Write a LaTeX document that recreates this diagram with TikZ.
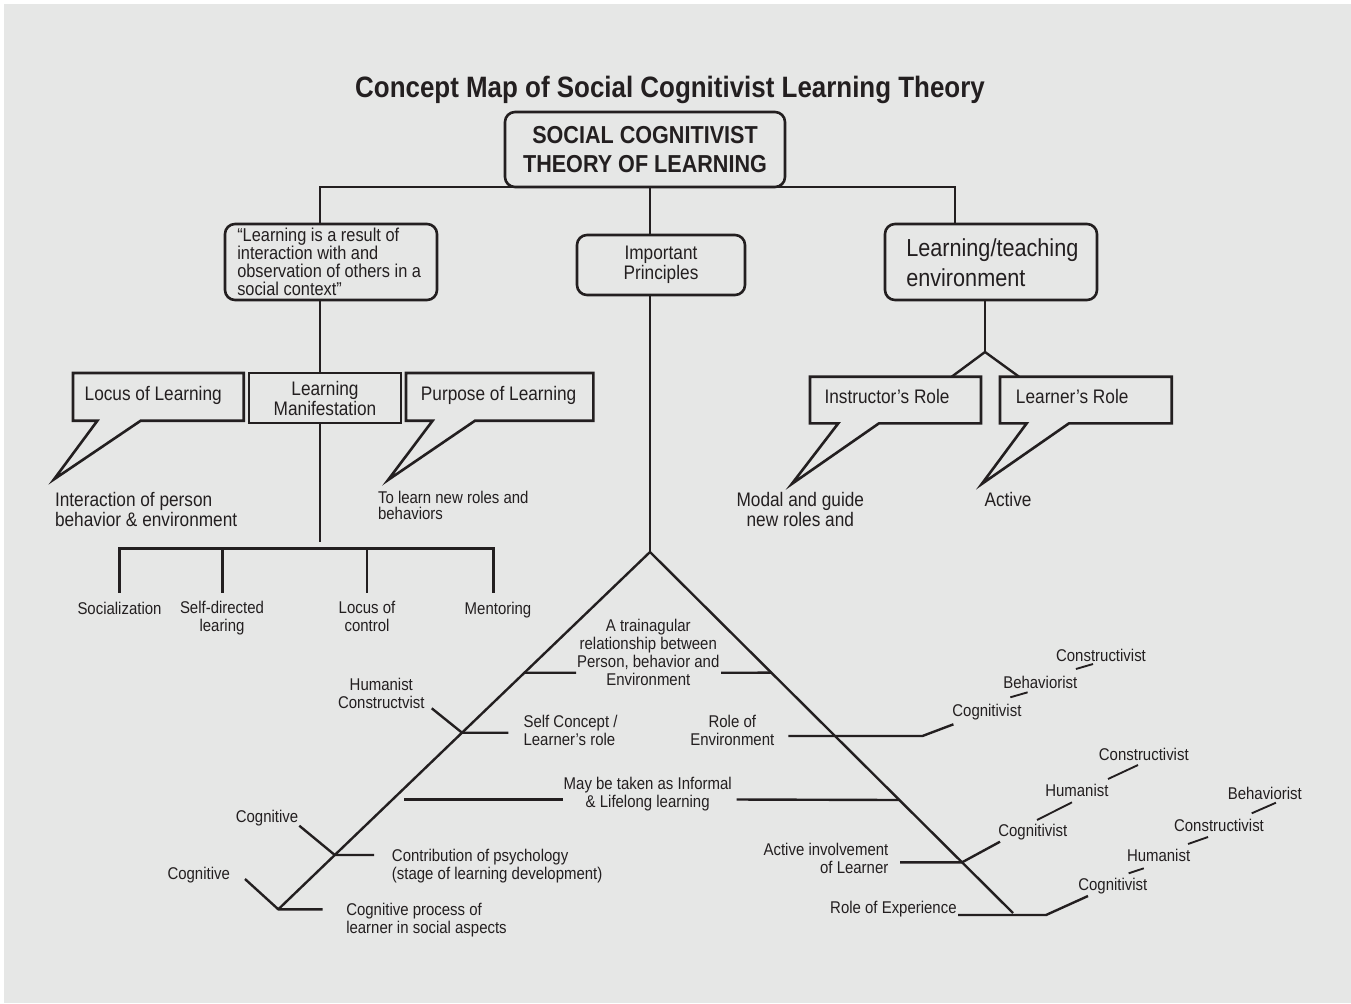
\documentclass[tikz,border=0pt]{standalone}
\usepackage{fontspec}
\setmainfont{Liberation Sans}[FakeStretch=0.88]
\usetikzlibrary{calc}
\definecolor{ink}{HTML}{231F20}
\definecolor{bg}{HTML}{E6E7E6}
\begin{document}
\begin{tikzpicture}[x=0.75pt,y=-0.75pt,
  line/.style={draw=ink,line width=1.8pt},
  thinline/.style={draw=ink,line width=1.4pt},
  rbox/.style={draw=ink,line width=1.95pt,rounded corners=7.5pt,inner sep=0pt,align=center,text=ink},
  sbox/.style={draw=ink,line width=1.95pt,inner sep=0pt,align=center,text=ink},
  callout/.style={draw=ink,line width=1.95pt,line join=miter},
  txt/.style={inner sep=0pt,text=ink,font=\fontsize{12.75}{13.5}\selectfont},
  med/.style={inner sep=0pt,text=ink,font=\fontsize{14.7}{15}\selectfont},
]
\useasboundingbox (0,0) rectangle (1351,1003);
\fill[white] (0,0) rectangle (1351,1003);
\fill[bg] (4,4) rectangle (1351,1003);

% title
\node[inner sep=0pt,text=ink,font=\bfseries\fontsize{22.1}{26}\selectfont,anchor=base] (title) at (670,97) {Concept Map of Social Cognitivist Learning Theory};

% top boxes
\node[rbox,minimum width=210pt,minimum height=56.25pt,font=\bfseries\fontsize{18.4}{21.3}\selectfont] (main) at (645,149.5) {SOCIAL COGNITIVIST\\THEORY OF LEARNING};
\node[rbox,minimum width=159pt,minimum height=57pt] (lbox) at (331,262) {};
\node[inner sep=0pt,text=ink,anchor=west,align=left,font=\fontsize{13.95}{13.6}\selectfont] (lboxt) at (237,262) {“Learning is a result of\\interaction with and\\observation of others in a\\social context”};
\node[rbox,minimum width=126pt,minimum height=45pt,font=\fontsize{14.7}{15}\selectfont] (ip) at (661,265) {Important\\Principles};
\node[rbox,minimum width=159pt,minimum height=57pt] (rbox) at (991,262) {};
\node[inner sep=0pt,text=ink,anchor=west,align=left,font=\fontsize{18.45}{22.5}\selectfont] (rboxt) at (906,263) {Learning/teaching\\environment};
\node[sbox,minimum width=114pt,minimum height=37.5pt,font=\fontsize{14.7}{15}\selectfont] (lm) at (325,398) {Learning\\Manifestation};

% top tree
\coordinate (jl) at (320,187);
\coordinate (jc) at (650,187);
\coordinate (jr) at (955,187);
\draw[line] (jl |- lbox.north) -- (jl) -- (jr) -- (jr |- rbox.north);
\draw[line] (jc) -- (jc |- ip.north);
\draw[line] (jl |- lbox.south) -- (jl |- lm.north);

% learning manifestation tree
\coordinate (lmend) at (320,541.7);
\draw[line] (jl |- lm.south) -- (lmend);
\coordinate (b1) at (119.3,548.3);
\coordinate (b2) at (222.3,548.3);
\coordinate (b3) at (366.7,548.3);
\coordinate (b4) at (493.3,548.3);
\draw[line] ($(b1)+(0,44.4)$) -- (b1) -- (b4) -- ($(b4)+(0,44.4)$);
\draw[line] (b2) -- ++(0,44.4);
\draw[line] (b3) -- ++(0,44.4);
\node[txt,anchor=base] (soc) at (119.5,614) {Socialization};
\node[txt,align=center] (sdl) at (222,618.5) {Self-directed\\learing};
\node[txt,align=center] (loc) at (367,616.8) {Locus of\\control};
\node[txt,anchor=base] (men) at (498,614) {Mentoring};

% callouts left
\draw[callout] (73,373) -- (243.7,373) -- (243.7,420.7) -- (140.7,420.7) -- (54,479.3) -- (97.4,420.7) -- (73,420.7) -- cycle;
\node[med,anchor=base west] (locl) at (84.4,400.7) {Locus of Learning};
\node[med,anchor=west,align=left] (inter) at (54.8,509.5) {Interaction of person\\behavior \& environment};
\draw[callout] (406,373) -- (593.3,373) -- (593.3,420.7) -- (475,420.7) -- (388,480) -- (432.6,420.7) -- (406,420.7) -- cycle;
\node[med,anchor=base west] (purp) at (420.7,400.7) {Purpose of Learning};
\node[txt,anchor=west,align=left,font=\fontsize{12.75}{12}\selectfont] (tolearn) at (377.8,505.3) {To learn new roles and\\behaviors};

% environment branch
\coordinate (ej) at (985,352);
\draw[line] (ej |- rbox.south) -- (ej);
\draw[line] (951.7,376.7) -- (ej) -- (1019,376.7);
\draw[callout] (810,376.7) -- (981,376.7) -- (981,423.3) -- (879,423.3) -- (791.7,484) -- (838.3,423.3) -- (810,423.3) -- cycle;
\node[med,anchor=base west] (instr) at (824.3,403.3) {Instructor’s Role};
\node[med,align=center] (modal) at (800.3,509.5) {Modal and guide\\new roles and};
\draw[callout] (1000,376.7) -- (1171.7,376.7) -- (1171.7,423.3) -- (1069,423.3) -- (981.7,484) -- (1026.7,423.3) -- (1000,423.3) -- cycle;
\node[med,anchor=base west] (lrole) at (1015.7,403.3) {Learner’s Role};
\node[med,anchor=base] (active) at (1008,506.7) {Active};

% triangle
\coordinate (apex) at (650,552);
\coordinate (lbot) at (278.3,909.3);
\coordinate (rbot) at (1013,913);
\draw[line] (jc |- ip.south) -- (apex);
\draw[line,line join=miter] (lbot) -- (apex) -- (rbot);

\node[txt,align=center] (tri) at (648.3,652.5) {A trainagular\\relationship between\\Person, behavior and\\Environment};
\draw[line] ($(apex)!0.3378!(lbot)$) -- (576,672.7);
\draw[line] (721,672.7) -- ($(apex)!0.3343!(rbot)$);

\coordinate (hj) at ($(apex)!0.5057!(lbot)$);
\draw[line] (431.7,708.3) -- (hj) -- (508.3,732.7);
\node[txt,align=center] (hum) at (381.3,693.7) {Humanist\\Constructvist};
\node[txt,anchor=west,align=left] (self) at (523.3,730.3) {Self Concept /\\Learner’s role};

\node[txt,align=center] (roe) at (732.3,730.3) {Role of\\Environment};
\draw[line] (788.3,736) -- (922.4,736) -- (953.4,724.3);
\node[txt,anchor=base] (cg1) at (986.9,716.7) {Cognitivist};
\node[txt,anchor=base] (bh1) at (1040.3,688.3) {Behaviorist};
\node[txt,anchor=base] (cs1) at (1101,661.7) {Constructivist};
\draw[thinline] (1010.3,697.3) -- (1027.6,692.3);
\draw[thinline] (1075.9,669) -- (1093,664);

\node[txt,align=center] (may) at (647.7,794.3) {May be taken as Informal\\\& Lifelong learning};
\draw[line] (404,799.5) -- (563,799.5);
\draw[line] (736.7,799.5) -- ($(apex)!0.687!(rbot)$);

\coordinate (cj) at ($(apex)!0.848!(lbot)$);
\draw[line] (299.3,825.7) -- (cj) -- (374,855);
\node[txt,anchor=base] (cog1) at (267,822.7) {Cognitive};
\node[txt,anchor=west,align=left] (contrib) at (391.7,865.6) {Contribution of psychology\\(stage of learning development)};
\draw[line] (245,879) -- (lbot) -- (322.7,909.3);
\node[txt,anchor=base] (cog2) at (198.7,879.3) {Cognitive};
\node[txt,anchor=west,align=left] (cproc) at (346,919.8) {Cognitive process of\\learner in social aspects};

\coordinate (aj) at ($(apex)!0.8596!(rbot)$);
\draw[line] (900,862.3) -- (aj) -- (1000,841.7);
\node[txt,anchor=east,align=right] (act) at (888.6,858.5) {Active involvement\\of Learner};
\node[txt,anchor=base] (cg2) at (1032.8,836.7) {Cognitivist};
\node[txt,anchor=base] (hu2) at (1076.9,796.7) {Humanist};
\node[txt,anchor=base] (cs2) at (1143.8,760) {Constructivist};
\draw[thinline] (1037,820) -- (1072,802.3);
\draw[thinline] (1108,779) -- (1138,765);

\draw[line] (958,915) -- (1046,915) -- (1088,896);
\node[txt,anchor=base east] (rexp) at (956.9,913.5) {Role of Experience};
\node[txt,anchor=base] (cg3) at (1112.8,890.7) {Cognitivist};
\node[txt,anchor=base] (hu3) at (1158.6,861.7) {Humanist};
\node[txt,anchor=base] (cs3) at (1219,831.7) {Constructivist};
\node[txt,anchor=base] (bh3) at (1264.8,799) {Behaviorist};
\draw[thinline] (1128.6,873.3) -- (1143.8,868.3);
\draw[thinline] (1188,844) -- (1208,837);
\draw[thinline] (1251.7,813.3) -- (1275.9,802.7);
\end{tikzpicture}
\end{document}
